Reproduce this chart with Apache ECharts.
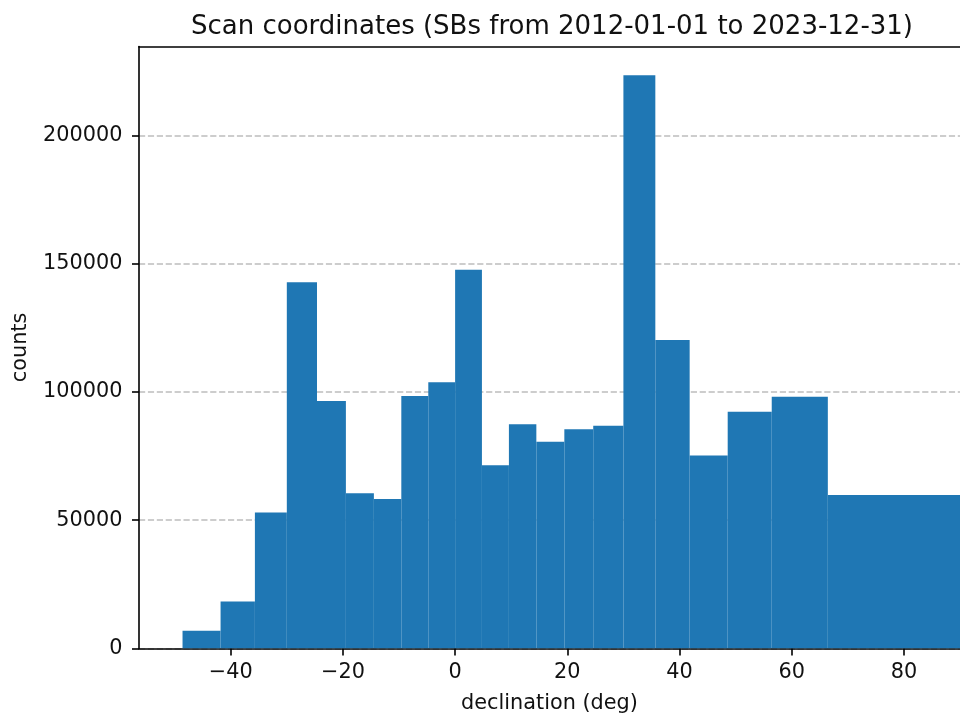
<!DOCTYPE html>
<html>
<head>
<meta charset="utf-8">
<title>Scan coordinates</title>
<script src="https://cdn.jsdelivr.net/npm/echarts@6/dist/echarts.min.js"></script>
<style>
  html, body { margin: 0; padding: 0; background: #ffffff; }
  #chart { width: 960px; height: 722px; }
</style>
</head>
<body>
<div id="chart"></div>
<script>
// Declination bin edges (deg): equal-area bins, uniform in sin(dec)
const binEdges = [-48.59, -41.81, -35.69, -30.00, -24.62, -19.47, -14.48, -9.59, -4.78, 0.00,
                  4.78, 9.59, 14.48, 19.47, 24.62, 30.00, 35.69, 41.81, 48.59, 56.44, 66.44, 90.00];
// Scan counts per declination bin
const binCounts = [6900, 18300, 53000, 142800, 96500, 60500, 58300, 98500, 103800, 147700,
                   71400, 87400, 80600, 85500, 86800, 223600, 120300, 75200, 92300, 98200, 59800];
// Axis tick values
const xTicks = [-40, -20, 0, 20, 40, 60, 80];
const yTicks = [0, 50000, 100000, 150000, 200000];

const chartTitle = 'Scan coordinates (SBs from 2012-01-01 to 2023-12-31)';
const xName = 'declination (deg)';
const yName = 'counts';

const FONT = 'DejaVu Sans';
const TEXT = '#111111';
const BAR = '#1f77b4';

const histData = binCounts.map((c, i) => [binEdges[i], binEdges[i + 1], c]);

const chart = echarts.init(document.getElementById('chart'), null, { renderer: 'canvas' });

chart.setOption({
  animation: false,
  backgroundColor: '#ffffff',
  grid: { left: 139, right: -4.7, top: 46.5, bottom: 73.6, containLabel: false },
  graphic: [{
    type: 'text',
    x: 552,
    y: 27,
    style: {
      text: chartTitle,
      font: '26px "' + FONT + '"',
      fill: TEXT,
      align: 'center',
      verticalAlign: 'middle'
    }
  }],
  xAxis: [{
    type: 'value',
    min: -56.35,
    max: 90,
    position: 'bottom',
    axisLine: { show: true, onZero: false, lineStyle: { color: '#000000', width: 1.6 } },
    axisTick: { show: true, customValues: xTicks, length: 7, lineStyle: { color: '#000000', width: 1.6 } },
    axisLabel: {
      show: true,
      customValues: xTicks,
      margin: 14,
      fontFamily: FONT,
      fontSize: 20.8,
      color: TEXT,
      formatter: v => (v < 0 ? '\u2212' + Math.abs(v) : String(v))
    },
    splitLine: { show: false },
    name: xName,
    nameLocation: 'middle',
    nameGap: 45,
    nameTextStyle: { fontFamily: FONT, fontSize: 20.8, color: TEXT }
  }, {
    // top frame line of the plot area
    type: 'value',
    min: -56.35,
    max: 90,
    position: 'top',
    axisLine: { show: true, onZero: false, lineStyle: { color: '#000000', width: 1.6 } },
    axisTick: { show: false },
    axisLabel: { show: false },
    splitLine: { show: false }
  }],
  yAxis: {
    type: 'value',
    min: 0,
    max: 234780,
    axisLine: { show: true, onZero: false, lineStyle: { color: '#000000', width: 1.6 } },
    axisTick: { show: true, customValues: yTicks, length: 7, lineStyle: { color: '#000000', width: 1.6 } },
    axisLabel: {
      show: true,
      customValues: yTicks,
      margin: 16.5,
      fontFamily: FONT,
      fontSize: 20.8,
      color: TEXT,
      formatter: v => String(v)
    },
    splitLine: {
      show: true,
      lineStyle: { color: '#bdbdbd', width: 1.6, type: [6.2, 2.7] }
    },
    name: yName,
    nameLocation: 'middle',
    nameGap: 108,
    nameTextStyle: { fontFamily: FONT, fontSize: 20.8, color: TEXT }
  },
  series: [{
    type: 'custom',
    xAxisIndex: 0,
    yAxisIndex: 0,
    clip: true,
    encode: { x: [0, 1], y: 2 },
    data: histData,
    renderItem: function (params, api) {
      const lo = api.value(0);
      const hi = api.value(1);
      const v = api.value(2);
      const p0 = api.coord([lo, 0]);
      const p1 = api.coord([hi, v]);
      return {
        type: 'rect',
        shape: { x: p0[0], y: p1[1], width: p1[0] - p0[0], height: p0[1] - p1[1] },
        style: { fill: BAR }
      };
    }
  }]
});
</script>
</body>
</html>
